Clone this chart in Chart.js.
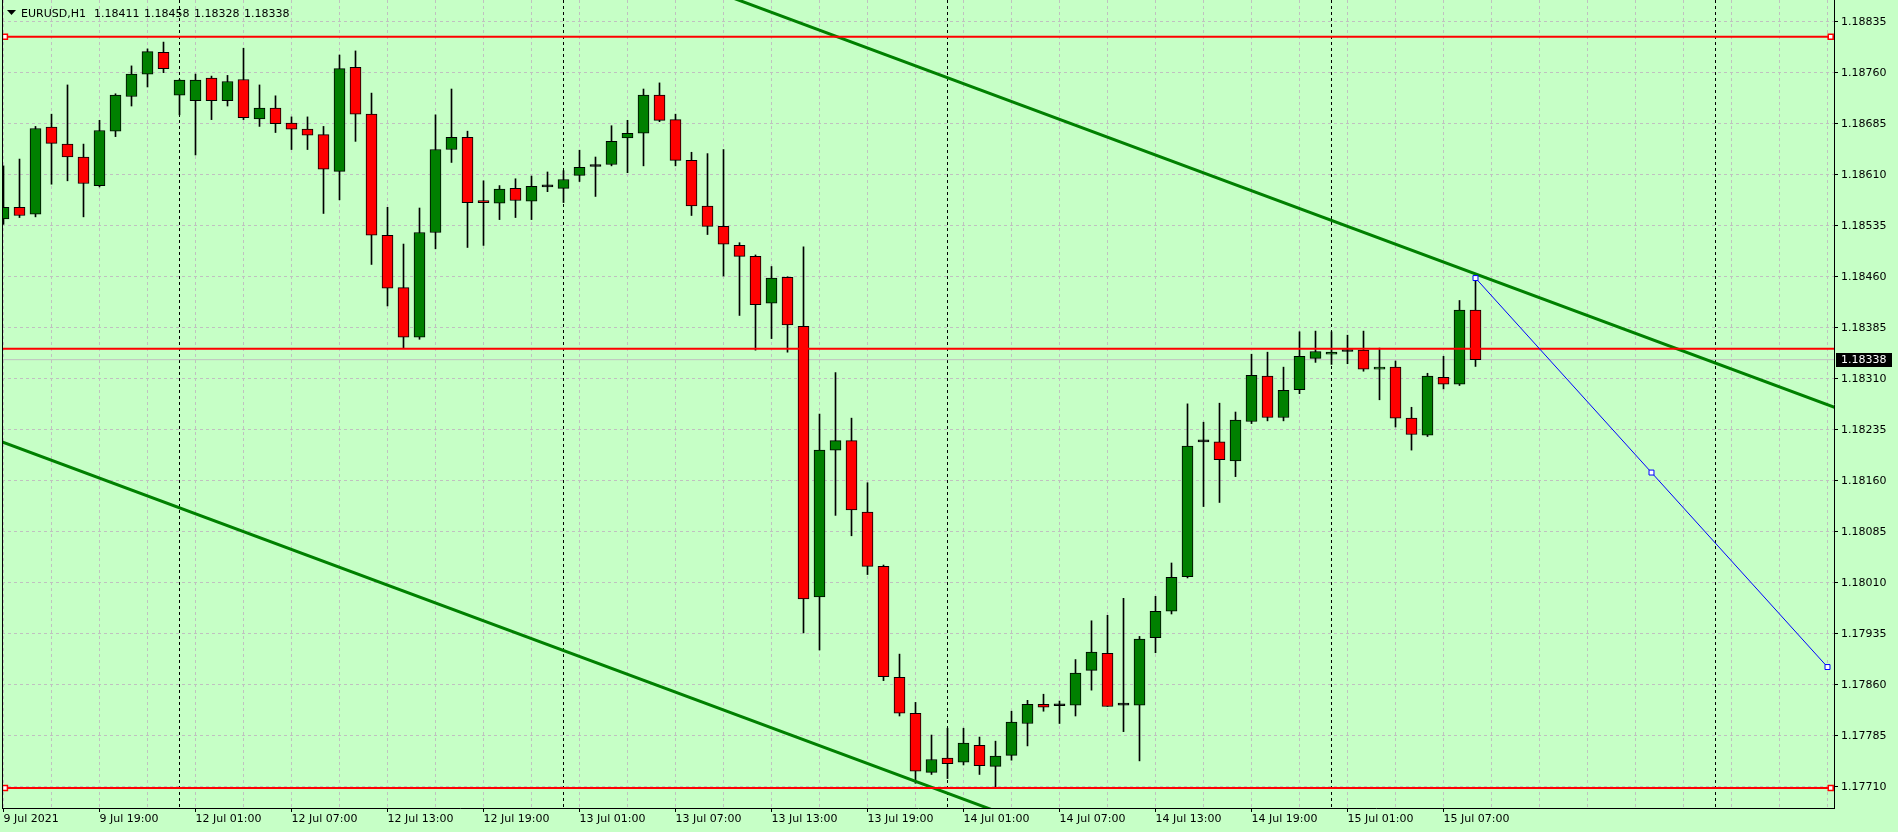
<!DOCTYPE html>
<html>
<head>
<meta charset="utf-8">
<title>EURUSD,H1</title>
<script src="https://cdn.jsdelivr.net/npm/chart.js@4.4.0/dist/chart.umd.min.js"></script>
<style>
  html, body { margin: 0; padding: 0; background: #c6ffc6; }
  #caixa { width: 1898px; height: 832px; }
</style>
</head>
<body>
<div id="caixa"><canvas id="graf1"></canvas></div>
<script>
//simbolo e periodo do grafico
var simbolo = 'EURUSD';
var periodo = 'H1';

//candles H1 - indice 0 = 9 Jul 13:00, ultimo = 15 Jul 09:00
var abertura = [
  1.18545,1.18562,1.18552,1.18680,1.18655,1.18636,1.18594,1.18674,1.18725,1.18758,1.18790,
  1.18727,1.18719,1.18752,1.18719,1.18750,1.18692,1.18708,1.18686,1.18677,1.18669,1.18615,1.18768,1.18699,1.18521,1.18444,1.18371,1.18525,1.18647,1.18665,1.18572,1.18568,1.18590,1.18571,1.18592,
  1.18590,1.18609,1.18622,1.18625,1.18664,1.18671,1.18727,1.18691,1.18631,1.18564,1.18534,1.18506,1.18490,1.18421,1.18459,1.18387,1.17989,1.18205,1.18219,1.18114,1.18034,1.17871,1.17818,1.17731,
  1.17752,1.17746,1.17771,1.17740,1.17756,1.17803,1.17831,1.17829,1.17830,1.17881,1.17906,1.17830,1.17830,1.17929,1.17968,1.18019,1.18217,1.18217,1.18189,1.18247,1.18314,1.18253,1.18294,1.18340,
  1.18346,1.18350,1.18352,1.18324,1.18327,1.18252,1.18227,1.18312,1.18302,1.18411
];
var maxima = [
  1.18623,1.18633,1.18681,1.18699,1.18742,1.18655,1.18690,1.18729,1.18770,1.18795,1.18805,
  1.18750,1.18758,1.18755,1.18756,1.18796,1.18742,1.18726,1.18695,1.18695,1.18681,1.18786,1.18792,1.18730,1.18562,1.18508,1.18561,1.18698,1.18736,1.18674,1.18601,1.18594,1.18604,1.18608,1.18614,
  1.18616,1.18646,1.18636,1.18682,1.18690,1.18736,1.18745,1.18699,1.18643,1.18641,1.18647,1.18510,1.18492,1.18475,1.18460,1.18504,1.18258,1.18319,1.18252,1.18157,1.18036,1.17905,1.17834,1.17786,
  1.17796,1.17796,1.17783,1.17777,1.17821,1.17837,1.17846,1.17836,1.17897,1.17954,1.17962,1.17987,1.17931,1.17990,1.18039,1.18273,1.18246,1.18274,1.18261,1.18346,1.18349,1.18327,1.18379,1.18380,
  1.18379,1.18374,1.18380,1.18355,1.18336,1.18268,1.18318,1.18343,1.18425,1.18458
];
var minima = [
  1.18537,1.18547,1.18548,1.18596,1.18601,1.18548,1.18592,1.18666,1.18711,1.18739,1.18760,
  1.18698,1.18639,1.18691,1.18711,1.18691,1.18681,1.18672,1.18647,1.18647,1.18553,1.18573,1.18659,1.18478,1.18417,1.18355,1.18368,1.18501,1.18628,1.18503,1.18506,1.18544,1.18547,1.18544,1.18585,
  1.18569,1.18600,1.18578,1.18623,1.18613,1.18623,1.18688,1.18623,1.18550,1.18522,1.18461,1.18403,1.18352,1.18369,1.18349,1.17936,1.17911,1.18109,1.18079,1.18022,1.17866,1.17814,1.17715,1.17728,
  1.17722,1.17742,1.17728,1.17710,1.17749,1.17770,1.17821,1.17803,1.17814,1.17852,1.17828,1.17791,1.17748,1.17907,1.17964,1.18017,1.18122,1.18128,1.18166,1.18244,1.18248,1.18248,1.18288,1.18334,
  1.18331,1.18332,1.18321,1.18279,1.18239,1.18205,1.18225,1.18295,1.18300,1.18328
];
var fechamento = [
  1.18562,1.18550,1.18678,1.18656,1.18636,1.18597,1.18675,1.18727,1.18758,1.18791,1.18766,
  1.18749,1.18749,1.18719,1.18747,1.18694,1.18708,1.18685,1.18677,1.18668,1.18618,1.18766,1.18699,1.18521,1.18443,1.18371,1.18525,1.18647,1.18665,1.18569,1.18569,1.18589,1.18572,1.18593,1.18592,
  1.18603,1.18621,1.18622,1.18659,1.18671,1.18727,1.18690,1.18631,1.18564,1.18534,1.18508,1.18490,1.18419,1.18458,1.18389,1.17986,1.18205,1.18219,1.18117,1.18034,1.17872,1.17818,1.17733,1.17750,
  1.17744,1.17774,1.17741,1.17755,1.17805,1.17831,1.17827,1.17829,1.17877,1.17908,1.17828,1.17830,1.17927,1.17968,1.18018,1.18211,1.18217,1.18191,1.18249,1.18315,1.18253,1.18293,1.18343,1.18350,
  1.18349,1.18350,1.18324,1.18327,1.18252,1.18228,1.18314,1.18302,1.18411,1.18338
];

//rotulos do eixo de tempo, um a cada 6 barras
var rotulosTempo = ['9 Jul 2021','9 Jul 19:00','12 Jul 01:00','12 Jul 07:00','12 Jul 13:00','12 Jul 19:00',
  '13 Jul 01:00','13 Jul 07:00','13 Jul 13:00','13 Jul 19:00','14 Jul 01:00','14 Jul 07:00',
  '14 Jul 13:00','14 Jul 19:00','15 Jul 01:00','15 Jul 07:00'];
var passoRotulo = 6;
//separadores de dia (barras das 00:00)
var separadores = [11, 35, 59, 83, 107];

//precos da escala da direita
var precosEixo = [1.17710,1.17785,1.17860,1.17935,1.18010,1.18085,1.18160,1.18235,
  1.18310,1.18385,1.18460,1.18535,1.18610,1.18685,1.18760,1.18835];

//objetos desenhados no grafico
var linhasVermelhas = [1.18813, 1.18354, 1.17708];
var comMarcador = [true, false, true];
var tendSupIdx = [45, 115];
var tendSupPreco = [1.18875, 1.18263];
var tendInfIdx = [-1, 65];
var tendInfPreco = [1.18225, 1.17648];
var azulIdx = [92, 103, 114];
var azulPreco = [1.18458, 1.18172, 1.17886];

//janela visivel
var xMin = -0.09375, xMax = 114.40625;
var yMin = 1.176787, yMax = 1.188669;

var n = fechamento.length - 1;
var fundo = '#c6ffc6';

Chart.defaults.font.family = 'DejaVu Sans';
Chart.defaults.font.size = 11;
Chart.defaults.color = '#000';

var pavios = abertura.map(function(v, i) { return {x: i, y: [minima[i], maxima[i]]}; });
var corpos = abertura.map(function(v, i) { return {x: i, y: [abertura[i], fechamento[i]]}; });
var coresCorpo = abertura.map(function(v, i) {
  if (fechamento[i] > v) return '#008000';
  if (fechamento[i] < v) return '#ff0000';
  return '#000000';
});

var gradeX = [];
for (var g = 0; g <= 114; g += 3) gradeX.push(g);

function rotuloX(v) {
  var k = v / passoRotulo;
  if (v % passoRotulo === 0 && k < rotulosTempo.length) return rotulosTempo[k];
  return '';
}

var datasets = [];

linhasVermelhas.forEach(function(p, k) {
  var pts = comMarcador[k] ? [xMin, 0.09, 114.2, xMax] : [xMin, xMax];
  datasets.push({
    type: 'line',
    data: pts.map(function(x) { return {x: x, y: p}; }),
    borderColor: '#ff0000',
    borderWidth: 2,
    pointStyle: 'rect',
    pointRadius: pts.map(function(x) { return (x === xMin || x === xMax) ? 0 : 3.5; }),
    pointBackgroundColor: '#ffffff',
    pointBorderColor: '#ff0000',
    pointBorderWidth: 1.5,
    order: 1
  });
});

//linha do preco atual
datasets.push({
  type: 'line',
  data: [{x: xMin, y: fechamento[n]}, {x: xMax, y: fechamento[n]}],
  borderColor: '#c0c0c0',
  borderWidth: 1,
  pointRadius: 0,
  order: 4
});

datasets.push({
  type: 'line',
  data: tendSupIdx.map(function(x, i) { return {x: x, y: tendSupPreco[i]}; }),
  borderColor: '#008000', borderWidth: 3, pointRadius: 0, order: 1
});
datasets.push({
  type: 'line',
  data: tendInfIdx.map(function(x, i) { return {x: x, y: tendInfPreco[i]}; }),
  borderColor: '#008000', borderWidth: 3, pointRadius: 0, order: 1
});
datasets.push({
  type: 'line',
  data: azulIdx.map(function(x, i) { return {x: x, y: azulPreco[i]}; }),
  borderColor: '#0000ff', borderWidth: 1,
  pointStyle: 'rect', pointRadius: 3.5,
  pointBackgroundColor: '#ffffff', pointBorderColor: '#0000ff', pointBorderWidth: 1,
  order: 0
});

datasets.push({
  type: 'bar',
  data: pavios,
  backgroundColor: '#000000',
  barThickness: 1,
  grouped: false,
  order: 3
});
datasets.push({
  type: 'bar',
  data: corpos,
  backgroundColor: coresCorpo,
  borderColor: '#000000',
  borderWidth: 1,
  borderSkipped: false,
  barThickness: 11,
  minBarLength: 2,
  grouped: false,
  order: 2
});

var plugFundo = {
  id: 'fundo',
  beforeDraw: function(chart) {
    var ctx = chart.ctx;
    ctx.save();
    ctx.fillStyle = fundo;
    ctx.fillRect(0, 0, chart.width, chart.height);
    ctx.restore();
  }
};

var plugSeparadores = {
  id: 'separadores',
  beforeDatasetsDraw: function(chart) {
    var ctx = chart.ctx, sx = chart.scales.x, a = chart.chartArea;
    ctx.save();
    ctx.strokeStyle = '#000';
    ctx.lineWidth = 1;
    ctx.setLineDash([3, 3]);
    separadores.forEach(function(i) {
      var px = Math.floor(sx.getPixelForValue(i)) + 0.5;
      ctx.beginPath();
      ctx.moveTo(px, a.top);
      ctx.lineTo(px, a.bottom);
      ctx.stroke();
    });
    ctx.restore();
  }
};

var plugTextos = {
  id: 'textos',
  afterDraw: function(chart) {
    var ctx = chart.ctx, a = chart.chartArea, sy = chart.scales.y;
    ctx.save();
    //borda esquerda
    ctx.strokeStyle = '#000';
    ctx.lineWidth = 1;
    ctx.beginPath();
    ctx.moveTo(a.left + 0.5, a.top);
    ctx.lineTo(a.left + 0.5, a.bottom);
    ctx.stroke();
    //cabecalho
    ctx.fillStyle = '#000';
    ctx.beginPath();
    ctx.moveTo(7, 10); ctx.lineTo(16, 10); ctx.lineTo(11.5, 15);
    ctx.closePath();
    ctx.fill();
    ctx.font = '11px "DejaVu Sans"';
    ctx.textBaseline = 'alphabetic';
    ctx.textAlign = 'left';
    ctx.fillText(simbolo + ',' + periodo, 21, 17);
    [abertura[n], maxima[n], minima[n], fechamento[n]].forEach(function(v, k) {
      ctx.fillText(v.toFixed(5), 94 + 50 * k, 17);
    });
    //etiqueta do preco atual
    var py = Math.round(sy.getPixelForValue(fechamento[n]));
    ctx.fillStyle = '#000';
    ctx.fillRect(a.right + 2, py - 7, 56, 14);
    ctx.fillStyle = '#fff';
    ctx.textBaseline = 'middle';
    ctx.fillText(fechamento[n].toFixed(5), a.right + 7, py + 0.5);
    ctx.restore();
  }
};

var ctx = document.getElementById('graf1');
var graf1 = new Chart(ctx, {
  type: 'bar',
  data: { datasets: datasets },
  options: {
    responsive: true,
    maintainAspectRatio: false,
    devicePixelRatio: 1,
    animation: false,
    events: [],
    layout: { autoPadding: false, padding: { left: 2, top: 0, right: 0, bottom: 0 } },
    plugins: { legend: { display: false }, tooltip: { enabled: false } },
    scales: {
      x: {
        type: 'linear',
        min: xMin,
        max: xMax,
        offset: false,
        afterBuildTicks: function(s) { s.ticks = gradeX.map(function(v) { return {value: v}; }); },
        afterFit: function(s) { s.height = 24; s.paddingLeft = 0; s.paddingRight = 0; },
        ticks: { autoSkip: false, maxRotation: 0, align: 'start', padding: 1, callback: function(v) { return rotuloX(v); } },
        grid: {
          offset: false,
          color: '#c0c0c0',
          tickLength: 4,
          tickColor: function(c) { return (c.tick && rotuloX(c.tick.value) !== '') ? '#000' : 'rgba(0,0,0,0)'; }
        },
        border: { color: '#000', width: 1, dash: [3, 3] }
      },
      y: {
        type: 'linear',
        position: 'right',
        min: yMin,
        max: yMax,
        afterBuildTicks: function(s) { s.ticks = precosEixo.map(function(v) { return {value: v}; }); },
        afterFit: function(s) { s.width = 64; s.paddingTop = 0; s.paddingBottom = 0; },
        ticks: { padding: 3, callback: function(v) { return v.toFixed(5); } },
        grid: { color: '#c0c0c0', tickLength: 4, tickColor: '#000' },
        border: { color: '#000', width: 1, dash: [3, 3] }
      }
    }
  },
  plugins: [plugFundo, plugSeparadores, plugTextos]
});
</script>
</body>
</html>
